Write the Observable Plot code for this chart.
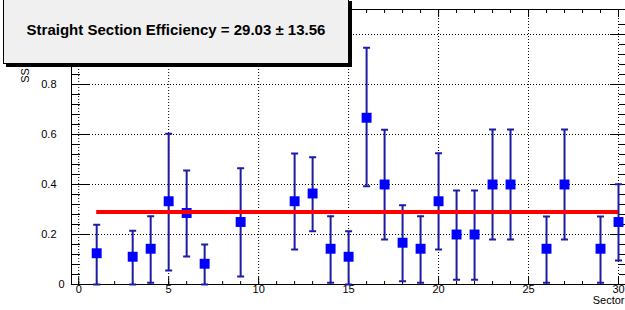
<!DOCTYPE html>
<html>
<head>
<meta charset="utf-8">
<script src="https://cdn.jsdelivr.net/npm/d3@7"></script>
<script src="https://cdn.jsdelivr.net/npm/@observablehq/plot@0.6"></script>
<style>
  html, body { margin: 0; padding: 0; background: #fff; }
  #wrap { position: relative; width: 625px; height: 310px; overflow: hidden; }
  #wrap svg { position: absolute; left: 0; top: 0; }
  #title {
    position: absolute; left: 3px; top: -2px; width: 346px;
    background: #f0f0f0; border: 1px solid #000; box-shadow: 3px 3px 0 #000;
    font: bold 15px "Liberation Sans", Arial, Helvetica, sans-serif; color: #000;
    display: flex; align-items: center; justify-content: center; padding-bottom: 4px; box-sizing: border-box;
    height: 66px;
  }
</style>
</head>
<body>
<div id="wrap"></div>
<script>
// ---- data ----
const sectors    = [1, 3, 4, 5, 6, 7, 9, 12, 13, 14, 15, 16, 17, 18, 19, 20, 21, 22, 23, 24, 26, 27, 29, 30];
const efficiency = [0.125, 0.111, 0.143, 0.333, 0.286, 0.083, 0.25, 0.333, 0.364, 0.143, 0.111, 0.667, 0.4, 0.167, 0.143, 0.333, 0.2, 0.2, 0.4, 0.4, 0.143, 0.4, 0.143, 0.25];
const lowerBound = [0, 0, 0.007, 0.056, 0.112, 0, 0.032, 0.14, 0.213, 0.007, 0, 0.393, 0.18, 0.013, 0.007, 0.14, 0.019, 0.019, 0.18, 0.18, 0.007, 0.18, 0.007, 0.096];
const upperBound = [0.239, 0.215, 0.273, 0.603, 0.456, 0.16, 0.465, 0.524, 0.509, 0.273, 0.213, 0.947, 0.619, 0.317, 0.273, 0.525, 0.376, 0.376, 0.62, 0.62, 0.272, 0.62, 0.272, 0.401];
const meanValue = [0.2903];
const meanRange = [1, 30];
const titleText = "Straight Section Efficiency = 29.03 \u00b1 13.56";
const xTitle = "Sector";
const yTitle = "SS";
const xMajor = [0, 5, 10, 15, 20, 25, 30];
const xTickLabels = ["0", "5", "10", "15", "20", "25", "30"];
const xMinor = d3.range(0, 31, 1);
const yMajor = [0, 0.2, 0.4, 0.6, 0.8, 1.0];
// the label at 1.0 is hidden behind the title box in the reference
const yLabelValues = [0.2, 0.4, 0.6, 0.8];
const yTickLabels = ["0.2", "0.4", "0.6", "0.8"];
const yZeroLabel = ["0"];
const yMinor = d3.range(0, 27).map(i => i * 0.04);

const points = sectors.map((s, i) => ({sector: s, eff: efficiency[i], lo: lowerBound[i], hi: upperBound[i]}));

const capSymbol = { draw(ctx) { ctx.moveTo(-3.5, 0); ctx.lineTo(3.5, 0); } };
const errColor = "#1c1ca4";
const font = '"Liberation Sans", Arial, Helvetica, sans-serif';

const chart = Plot.plot({
  width: 625, height: 310,
  marginLeft: 71, marginRight: -2, marginTop: 9, marginBottom: 26,
  x: {domain: [-0.4, 30.5]},
  y: {domain: [0, 1.1]},
  style: {fontFamily: font, fontSize: "11px", color: "#000", background: "transparent"},
  marks: [
    // dotted grid
    Plot.ruleX(xMajor, {x: d => d, stroke: "#000", strokeWidth: 1, strokeDasharray: "1,2"}),
    Plot.ruleY(yMajor.filter(d => d > 0), {y: d => d, stroke: "#000", strokeWidth: 1, strokeDasharray: "1,2"}),
    Plot.frame({stroke: "#000", strokeWidth: 1}),
    // ticks inside the frame (left / right)
    Plot.axisY({ticks: yMajor, anchor: "right", frameAnchor: "left", tickSize: 17, fill: "none", label: null, stroke: "#000"}),
    Plot.axisY({ticks: yMinor, anchor: "right", frameAnchor: "left", tickSize: 8, fill: "none", label: null, stroke: "#000"}),
    Plot.axisY({ticks: yMajor, anchor: "left", frameAnchor: "right", tickSize: 17, fill: "none", label: null, stroke: "#000"}),
    Plot.axisY({ticks: yMinor, anchor: "left", frameAnchor: "right", tickSize: 8, fill: "none", label: null, stroke: "#000"}),
    // ticks inside the frame (bottom / top)
    Plot.axisX({ticks: xMajor, anchor: "top", frameAnchor: "bottom", tickSize: 8, fill: "none", label: null, stroke: "#000"}),
    Plot.axisX({ticks: xMinor, anchor: "top", frameAnchor: "bottom", tickSize: 4, fill: "none", label: null, stroke: "#000"}),
    Plot.axisX({ticks: xMajor, anchor: "bottom", frameAnchor: "top", tickSize: 8, fill: "none", label: null, stroke: "#000"}),
    Plot.axisX({ticks: xMinor, anchor: "bottom", frameAnchor: "top", tickSize: 4, fill: "none", label: null, stroke: "#000"}),
    // tick labels
    Plot.text(xMajor, {x: d => d, frameAnchor: "bottom", dy: 8, text: (d, i) => xTickLabels[i], fill: "#000", fontSize: 11}),
    Plot.text(yLabelValues, {y: d => d, frameAnchor: "left", dx: -15, textAnchor: "end", text: (d, i) => yTickLabels[i], fill: "#000", fontSize: 11}),
    Plot.text([0], {y: d => d, frameAnchor: "left", dx: -7, textAnchor: "end", text: () => yZeroLabel[0], fill: "#000", fontSize: 11}),
    // axis titles
    Plot.text([xTitle], {frameAnchor: "bottom-right", dx: -3, dy: 19, textAnchor: "end", text: d => d, fill: "#000", fontSize: 11}),
    Plot.text([yTitle], {frameAnchor: "top-left", dx: -50, dy: 66, rotate: -90, textAnchor: "middle", text: d => d, fill: "#000", fontSize: 11}),
    // error bars
    Plot.ruleX(points, {x: "sector", y1: "lo", y2: "hi", stroke: errColor, strokeWidth: 2}),
    Plot.dot(points, {x: "sector", y: "lo", symbol: capSymbol, stroke: errColor, strokeWidth: 2, fill: "none"}),
    Plot.dot(points, {x: "sector", y: "hi", symbol: capSymbol, stroke: errColor, strokeWidth: 2, fill: "none"}),
    // markers
    Plot.dot(points, {x: "sector", y: "eff", symbol: "square", r: 5.6, fill: "#0000ff", stroke: "none"}),
    // mean line
    Plot.ruleY(meanValue, {y: d => d, x1: meanRange[0], x2: meanRange[1], stroke: "#ff0000", strokeWidth: 4})
  ]
});

const wrap = document.getElementById("wrap");
wrap.appendChild(chart);
const t = document.createElement("div");
t.id = "title";
t.textContent = titleText;
wrap.appendChild(t);
</script>
</body>
</html>
